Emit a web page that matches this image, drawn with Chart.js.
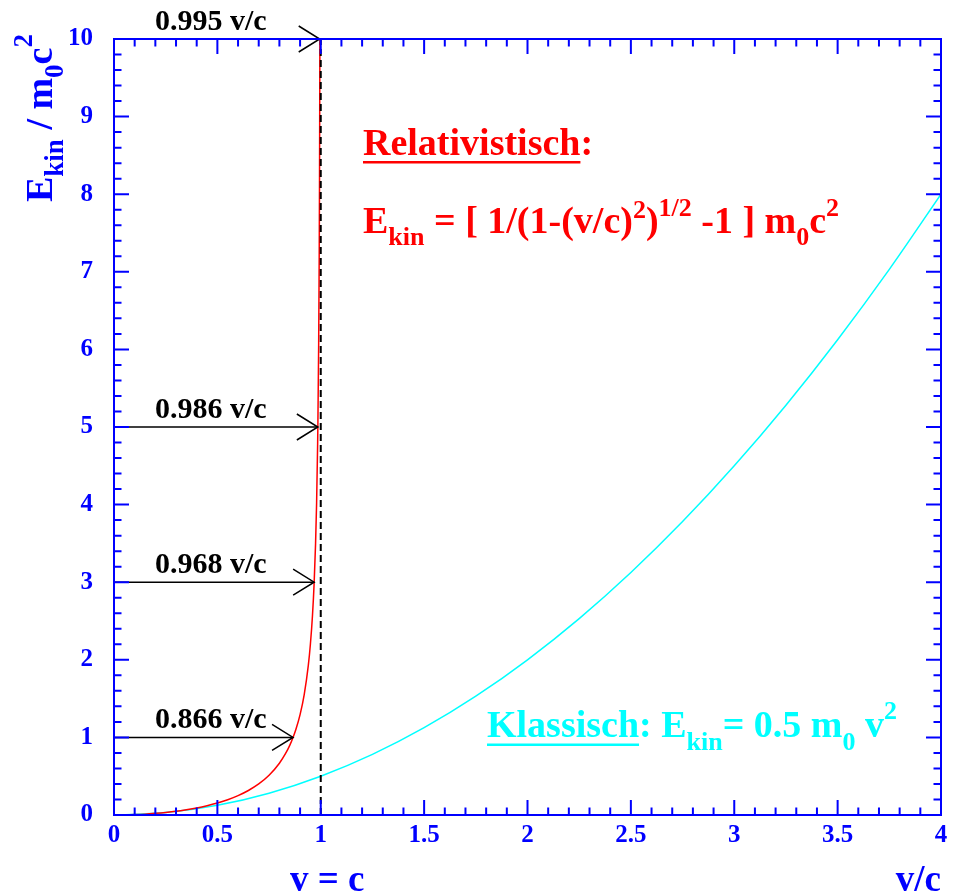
<!DOCTYPE html>
<html>
<head>
<meta charset="utf-8">
<script src="https://cdn.jsdelivr.net/npm/chart.js@4.4.0/dist/chart.umd.min.js"></script>
<style>
html,body{margin:0;padding:0;background:#fff;}
canvas{display:block;}
</style>
</head>
<body>
<canvas id="c" width="957" height="894"></canvas>
<script>
// ---- data ----
const relV = [0, 0.05, 0.1, 0.15, 0.2, 0.25, 0.3, 0.35, 0.4, 0.45, 0.5, 0.55, 0.6, 0.65, 0.7, 0.75, 0.8, 0.83, 0.85, 0.866, 0.88, 0.9, 0.92, 0.94, 0.95, 0.96, 0.968, 0.975, 0.98, 0.985, 0.986, 0.99, 0.9925, 0.994, 0.9959];
const relE = [0, 0.0013, 0.005, 0.011, 0.021, 0.033, 0.048, 0.068, 0.091, 0.120, 0.155, 0.197, 0.25, 0.316, 0.400, 0.512, 0.667, 0.793, 0.898, 1.0, 1.105, 1.294, 1.552, 1.931, 2.203, 2.571, 2.985, 3.50, 4.025, 4.795, 4.997, 6.089, 7.18, 8.14, 10.0];
const clsV = [0, 0.25, 0.5, 0.75, 1, 1.25, 1.5, 1.75, 2, 2.25, 2.5, 2.75, 3, 3.25, 3.5, 3.75, 4];
const clsE = [0, 0.031, 0.125, 0.281, 0.5, 0.781, 1.125, 1.531, 2, 2.531, 3.125, 3.781, 4.5, 5.281, 6.125, 7.031, 8];
const arrowE = [1, 3, 5, 10];
const arrowV = [0.866, 0.968, 0.986, 0.995];
const arrowLabels = ["0.866 v/c", "0.968 v/c", "0.986 v/c", "0.995 v/c"];
const xTickLabels = ["0", "0.5", "1", "1.5", "2", "2.5", "3", "3.5", "4"];
const yTickLabels = ["0", "1", "2", "3", "4", "5", "6", "7", "8", "9", "10"];
const limitV = 1;

const FF = '"Liberation Serif", "Times New Roman", serif';
const BLUE = '#0000ff', RED = '#ff0000', CYAN = '#00ffff';

function rich(ctx, x, y, parts, color) {
  ctx.fillStyle = color; ctx.textBaseline = 'alphabetic'; ctx.textAlign = 'left';
  let cx = x; const spans = [];
  for (const [t, s, dy] of parts) {
    ctx.font = `bold ${s}px ${FF}`;
    ctx.fillText(t, cx, y + dy);
    const w = ctx.measureText(t).width;
    spans.push([cx, cx + w]);
    cx += w;
  }
  return spans;
}

const overlay = {
  id: 'overlay',
  afterDatasetsDraw(chart) {
    const ctx = chart.ctx, xs = chart.scales.x, ys = chart.scales.y, a = chart.chartArea;
    ctx.save();
    // dashed v = c line
    ctx.strokeStyle = '#000'; ctx.lineWidth = 2; ctx.setLineDash([7, 4]);
    ctx.beginPath();
    ctx.moveTo(xs.getPixelForValue(limitV), ys.getPixelForValue(0));
    ctx.lineTo(xs.getPixelForValue(limitV), ys.getPixelForValue(10));
    ctx.stroke();
    ctx.setLineDash([]);
    // arrows
    for (let i = 0; i < arrowE.length; i++) {
      const py = ys.getPixelForValue(arrowE[i]);
      const px = xs.getPixelForValue(arrowV[i]);
      ctx.strokeStyle = '#000'; ctx.lineWidth = 1.5;
      ctx.beginPath(); ctx.moveTo(a.left, py); ctx.lineTo(px, py); ctx.stroke();
      ctx.beginPath();
      ctx.moveTo(px - 21, py - 13); ctx.lineTo(px, py); ctx.lineTo(px - 21, py + 13);
      ctx.stroke();
      ctx.fillStyle = '#000'; ctx.font = `bold 30px ${FF}`;
      ctx.textAlign = 'left'; ctx.textBaseline = 'alphabetic';
      ctx.fillText(arrowLabels[i], a.left + 41, py - 9);
    }
    // frame
    ctx.strokeStyle = BLUE; ctx.lineWidth = 2;
    ctx.strokeRect(a.left, a.top, a.right - a.left, a.bottom - a.top);
    // ticks
    ctx.lineWidth = 2;
    ctx.beginPath();
    for (let k = 0; k <= 40; k++) {
      const v = k / 10, px = xs.getPixelForValue(v);
      const L = (k % 5 === 0) ? 15 : 7.5;
      ctx.moveTo(px, a.bottom); ctx.lineTo(px, a.bottom - L);
      ctx.moveTo(px, a.top); ctx.lineTo(px, a.top + L);
    }
    for (let k = 0; k <= 50; k++) {
      const v = k / 5, py = ys.getPixelForValue(v);
      const L = (k % 5 === 0) ? 15 : 7.5;
      ctx.moveTo(a.left, py); ctx.lineTo(a.left + L, py);
      ctx.moveTo(a.right, py); ctx.lineTo(a.right - L, py);
    }
    ctx.stroke();
    // annotations: relativistic
    let sp = rich(ctx, 363, 155, [["Relativistisch", 38, 0], [":", 38, 0]], RED);
    ctx.fillStyle = RED; ctx.fillRect(sp[0][0], 161, sp[0][1] - sp[0][0], 2.5);
    rich(ctx, 363, 233, [["E", 38, 0], ["kin", 26, 12], [" = [ 1/(1-(v/c)", 38, 0], ["2", 26, -15],
      [")", 38, 0], ["1/2", 26, -17], [" -1 ] m", 38, 0], ["0", 26, 12], ["c", 38, 0], ["2", 26, -17]], RED);
    // classical
    sp = rich(ctx, 487, 737, [["Klassisch", 38, 0], [": ", 38, 0], ["E", 38, 0], ["kin", 26, 13],
      ["= 0.5 m", 38, 0], ["0", 26, 13], [" v", 38, 0], ["2", 26, -18]], CYAN);
    ctx.fillStyle = CYAN; ctx.fillRect(sp[0][0], 743.5, sp[0][1] - sp[0][0], 2.5);
    // axis titles
    ctx.fillStyle = BLUE; ctx.font = `bold 37px ${FF}`;
    ctx.textAlign = 'left'; ctx.fillText('v = c', 290, 891);
    ctx.textAlign = 'right'; ctx.fillText('v/c', 941, 891);
    ctx.save();
    ctx.translate(52, 202); ctx.rotate(-Math.PI / 2);
    rich(ctx, 0, 0, [["E", 38, 0], ["kin", 27, 11], [" / m", 38, 0], ["0", 27, 11], ["c", 38, 0], ["2", 27, -20]], BLUE);
    ctx.restore();
    ctx.restore();
  }
};

new Chart(document.getElementById('c'), {
  type: 'scatter',
  data: {
    datasets: [
      { data: relV.map((v, i) => ({ x: v, y: relE[i] })), showLine: true, borderColor: RED, borderWidth: 1.5,
        pointRadius: 0, cubicInterpolationMode: 'monotone' },
      { data: clsV.map((v, i) => ({ x: v, y: clsE[i] })), showLine: true, borderColor: CYAN, borderWidth: 1.5,
        pointRadius: 0, cubicInterpolationMode: 'monotone' }
    ]
  },
  options: {
    responsive: false, animation: false,
    layout: { padding: { left: 0, top: 39, right: 16, bottom: 0 } },
    plugins: { legend: { display: false }, tooltip: { enabled: false } },
    scales: {
      x: {
        type: 'linear', min: 0, max: 4,
        grid: { display: false, drawTicks: false }, border: { display: false },
        afterFit: s => { s.height = 79; },
        afterBuildTicks: s => { s.ticks = xTickLabels.map(t => ({ value: parseFloat(t) })); },
        ticks: { color: BLUE, font: { family: FF, size: 25, weight: 'bold' }, padding: 6,
          maxRotation: 0, autoSkip: false, callback: (v, i) => xTickLabels[i] }
      },
      y: {
        type: 'linear', min: 0, max: 10,
        grid: { display: false, drawTicks: false }, border: { display: false },
        afterFit: s => { s.width = 114; },
        afterBuildTicks: s => { s.ticks = yTickLabels.map(t => ({ value: parseFloat(t) })); },
        ticks: { color: BLUE, font: { family: FF, size: 25, weight: 'bold' }, padding: 21,
          autoSkip: false, callback: (v, i) => yTickLabels[i] }
      }
    }
  },
  plugins: [overlay]
});
</script>
</body>
</html>
